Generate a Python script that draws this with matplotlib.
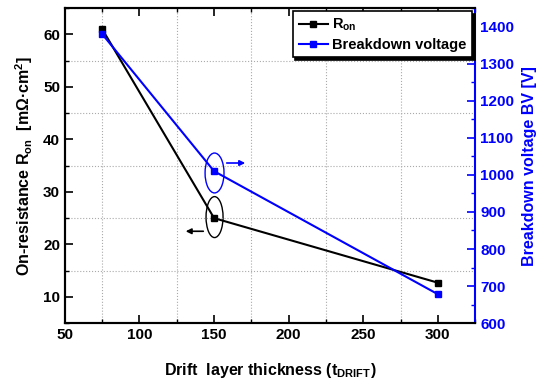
import matplotlib.pyplot as plt
from matplotlib.patches import Ellipse
from matplotlib.ticker import MultipleLocator

plt.rcParams['font.family'] = ['Liberation Sans', 'DejaVu Sans']
plt.rcParams['font.weight'] = 'bold'
plt.rcParams['axes.labelweight'] = 'bold'
plt.rcParams['mathtext.fontset'] = 'custom'
plt.rcParams['mathtext.rm'] = 'Liberation Sans:bold'
plt.rcParams['mathtext.default'] = 'rm'

thickness = [75, 150, 300]
r_on = [61, 25, 12.7]
bv = [1380, 1010, 678]

fig = plt.figure(figsize=(5.5, 3.87), dpi=100)
ax = fig.add_axes([0.118, 0.165, 0.746, 0.814])
ax2 = ax.twinx()

l1, = ax.plot(thickness, r_on, color='black', marker='s', ms=5, lw=1.5,
              label='R$_{on}$')
l2, = ax2.plot(thickness, bv, color='#0000ff', marker='s', ms=5, lw=1.5,
               label='Breakdown voltage')

ax.set_xlim(50, 325)
ax.set_ylim(5, 65)
ax2.set_ylim(600, 1450)

ax.xaxis.set_major_locator(MultipleLocator(50))
ax.xaxis.set_minor_locator(MultipleLocator(25))
ax.yaxis.set_major_locator(MultipleLocator(10))
ax.yaxis.set_minor_locator(MultipleLocator(5))
ax2.yaxis.set_major_locator(MultipleLocator(100))
ax2.yaxis.set_minor_locator(MultipleLocator(50))

ax.grid(which='minor', ls=':', color='#aaaaaa', lw=0.8)
ax.tick_params(which='both', direction='in', top=True, labelsize=11)
ax.tick_params(which='major', length=6, width=1.2)
ax.tick_params(which='minor', length=3, width=1.0)
ax2.tick_params(which='both', direction='in', colors='#0000ff', labelsize=11)
ax2.tick_params(which='major', length=6, width=1.2)
ax2.tick_params(which='minor', length=3, width=1.0)
for lab in ax.get_xticklabels() + ax.get_yticklabels() + ax2.get_yticklabels():
    lab.set_fontweight('bold')
for s in ['left', 'bottom', 'top']:
    ax.spines[s].set_linewidth(1.5)
    ax2.spines[s].set_linewidth(1.5)
ax2.spines['right'].set_color('#0000ff')
ax2.spines['right'].set_linewidth(1.5)
ax.spines['right'].set_visible(False)

ax.set_xlabel('Drift  layer thickness (t$_{DRIFT}$)', fontsize=11.5, labelpad=14)
ax.set_ylabel('On-resistance R$_{on}$  [m$\\Omega$·cm$^2$]', fontsize=11.5, labelpad=6)
ax2.set_ylabel('Breakdown voltage BV [V]', fontsize=11.5, color='#0000ff', labelpad=6)

# annotations
ax.add_patch(Ellipse((150.3, 33.6), 12.7, 7.6, fill=False, ec='#0000ff', lw=1.0))
ax.annotate('', xy=(172.7, 35.5), xytext=(156.6, 35.5),
            arrowprops=dict(arrowstyle='-|>', color='#0000ff', lw=1.2, mutation_scale=8))
ax.add_patch(Ellipse((150.3, 25.2), 11.4, 7.8, fill=False, ec='black', lw=1.0))
ax.annotate('', xy=(129.1, 22.5), xytext=(144.6, 22.5),
            arrowprops=dict(arrowstyle='-|>', color='black', lw=1.2, mutation_scale=8))

leg = ax2.legend([l1, l2], ['R$_{on}$', 'Breakdown voltage'], loc='upper right',
                 fancybox=False, shadow={'color': 'black', 'alpha': 1},
                 edgecolor='black', fontsize=10.5, borderaxespad=0.2,
                 handlelength=2.0, handletextpad=0.3, labelspacing=0.3)
leg.get_frame().set_linewidth(1.2)

fig.savefig('out.png', dpi=100)
